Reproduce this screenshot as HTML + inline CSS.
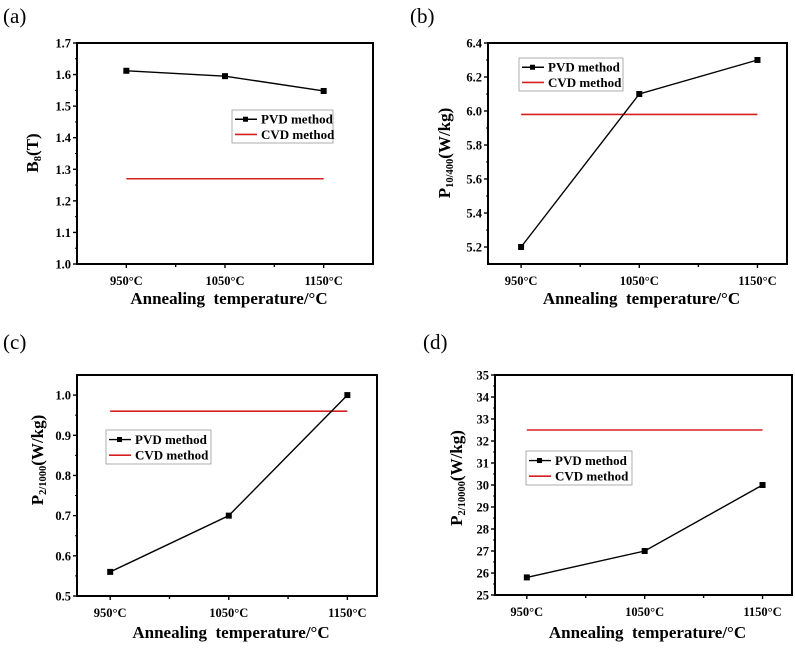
<!DOCTYPE html>
<html><head><meta charset="utf-8"><style>
body{margin:0;background:#fff}
svg{display:block;font-family:"Liberation Serif",serif}
</style></head><body>
<svg id="fig" width="795" height="648" viewBox="0 0 795 648"></svg>
<script>
const categories = ["950°C","1050°C","1150°C"];
const pvdA = [1.612, 1.595, 1.548];
const cvdA = 1.27;
const ticksA = [1.0,1.1,1.2,1.3,1.4,1.5,1.6,1.7];
const pvdB = [5.2, 6.1, 6.3];
const cvdB = 5.98;
const ticksB = [5.2,5.4,5.6,5.8,6.0,6.2,6.4];
const pvdC = [0.56, 0.70, 1.0];
const cvdC = 0.96;
const ticksC = [0.5,0.6,0.7,0.8,0.9,1.0];
const pvdD = [25.8, 27, 30];
const cvdD = 32.5;
const ticksD = [25,26,27,28,29,30,31,32,33,34,35];

const NS="http://www.w3.org/2000/svg";
const svg=document.getElementById('fig');
function mk(tag,attrs,parent,txt){const e=document.createElementNS(NS,tag);for(const k in attrs)e.setAttribute(k,attrs[k]);if(txt!==undefined)e.textContent=txt;(parent||svg).appendChild(e);return e;}

const panels=[
 {id:'a',letter:'(a)',lx:3,ly:23,box:[77,43,373,264],xd:[-0.5,2.5],yd:[1.0,1.7],pvd:pvdA,cvd:cvdA,ticks:ticksA,dec:1,
  main:'B',sub:'8',rest:'(T)',tx:38,ty:153,leg:[232,110,333,143],xt:304},
 {id:'b',letter:'(b)',lx:410,ly:23,box:[488,43,787,264],xd:[-0.28,2.25],yd:[5.1,6.4],pvd:pvdB,cvd:cvdB,ticks:ticksB,dec:1,
  main:'P',sub:'10/400',rest:'(W/kg)',tx:450,ty:153,leg:[519,58,623,91],xt:304},
 {id:'c',letter:'(c)',lx:3,ly:349,box:[77,375,377,596],xd:[-0.28,2.25],yd:[0.5,1.05],pvd:pvdC,cvd:cvdC,ticks:ticksC,dec:1,
  main:'P',sub:'2/1000',rest:'(W/kg)',tx:43,ty:460,leg:[106,430,211,464],xt:638},
 {id:'d',letter:'(d)',lx:423,ly:349,box:[495,375,792,595],xd:[-0.27,2.25],yd:[25,35],pvd:pvdD,cvd:cvdD,ticks:ticksD,dec:0,
  main:'P',sub:'2/10000',rest:'(W/kg)',tx:462,ty:478,leg:[526,451,632,485],xt:638}
];

panels.forEach(p=>{
 const g=mk('g',{});
 
 
 const [x0,y0,x1,y1]=p.box;
 const X=i=>x0+(i-p.xd[0])/(p.xd[1]-p.xd[0])*(x1-x0);
 const Y=v=>y1-(v-p.yd[0])/(p.yd[1]-p.yd[0])*(y1-y0);
 const lt=mk('text',{x:p.lx,y:p.ly,'font-size':21},g,p.letter);
 
 
 const fr=mk('rect',{x:x0,y:y0,width:x1-x0,height:y1-y0,fill:'none',stroke:'#000','stroke-width':2},g);
 
 
 const step=p.ticks[1]-p.ticks[0];
 p.ticks.forEach((t,k)=>{
  const y=Y(t);
  mk('line',{x1:x0-4,x2:x0,y1:y,y2:y,stroke:'#000','stroke-width':1.4},g);
  if(k<p.ticks.length-1){const ym=Y(t+step/2);mk('line',{x1:x0-2,x2:x0,y1:ym,y2:ym,stroke:'#000','stroke-width':1},g);}
  const tl=mk('text',{x:x0-6,y:y+4.5,'font-size':12.5,'font-weight':'bold','text-anchor':'end'},g,t.toFixed(p.dec));
  
  
 });
 [0,0.5,1,1.5,2].forEach(i=>{const x=X(i);mk('line',{x1:x,x2:x,y1:y1,y2:y1+(i%1?3:4),stroke:'#000','stroke-width':1.4},g);});
 categories.forEach((c,i)=>{
  const tl=mk('text',{x:X(i),y:y1+21,'font-size':12.5,'font-weight':'bold','text-anchor':'middle'},g,c);
  
  
 });
 const xt=mk('text',{x:(x0+x1)/2+4,y:p.xt,'font-size':17,'font-weight':'bold','text-anchor':'middle',style:'white-space:pre'},g,'Annealing  temperature/°C');
 
 
 const yt=mk('text',{x:0,y:0,'font-size':17,'font-weight':'bold','text-anchor':'middle',transform:`translate(${p.tx},${p.ty}) rotate(-90)`},g);
 
 
 mk('tspan',{},yt,p.main);
 mk('tspan',{'font-size':10.5,dy:3},yt,p.sub);
 mk('tspan',{dy:-3},yt,p.rest);
 const cl=mk('line',{x1:X(0),x2:X(2),y1:Y(p.cvd),y2:Y(p.cvd),stroke:'#d62020','stroke-width':1.6},g);
 
 
 const pl=mk('polyline',{points:p.pvd.map((v,i)=>X(i)+','+Y(v)).join(' '),fill:'none',stroke:'#000','stroke-width':1.4},g);
 
 
 p.pvd.forEach((v,i)=>{
  const m=mk('rect',{x:X(i)-3,y:Y(v)-3,width:6,height:6,fill:'#000'},g);
  
  
 });
 const [a,b,c,d]=p.leg;
 const lg=mk('g',{},g);
 
 
 mk('rect',{x:a,y:b,width:c-a,height:d-b,fill:'#fff',stroke:'#999','stroke-width':0.8},lg);
 const r1=b+(d-b)*0.28, r2=b+(d-b)*0.74;
 mk('line',{x1:a+3,x2:a+25,y1:r1,y2:r1,stroke:'#000','stroke-width':1.4},lg);
 mk('rect',{x:a+11,y:r1-2.5,width:5,height:5,fill:'#000'},lg);
 mk('line',{x1:a+3,x2:a+25,y1:r2,y2:r2,stroke:'#d62020','stroke-width':1.6},lg);
 const e1=mk('text',{x:a+29,y:r1+4.5,'font-size':13,'font-weight':'bold'},lg,'PVD method');
 
 
 const e2=mk('text',{x:a+29,y:r2+4.5,'font-size':13,'font-weight':'bold'},lg,'CVD method');
 
 
});
</script>
</body></html>
